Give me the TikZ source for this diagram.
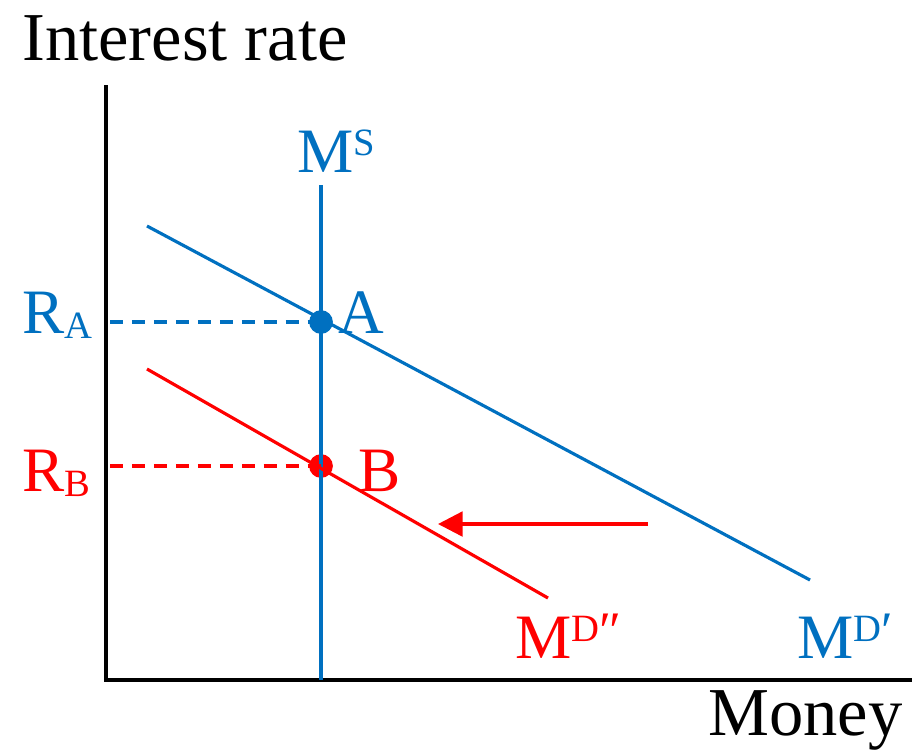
\documentclass[tikz,border=0pt]{standalone}
\usepackage{fontspec}
\setmainfont{Liberation Serif}
\usetikzlibrary{arrows.meta}
\definecolor{msblue}{RGB}{0,112,192}
\definecolor{mdred}{RGB}{255,0,0}
\newcommand\suptxt[1]{\raisebox{9.2pt}{\fontsize{22}{22}\selectfont #1}}
\newcommand\subtxt[1]{\raisebox{-3pt}{\fontsize{22}{22}\selectfont #1}}
\newcommand\primes[1]{{\fontsize{30}{30}\selectfont\raisebox{-4pt}{#1}}}
\tikzset{
  axisline/.style = {draw=black, line width=2pt},
  bluecurve/.style= {draw=msblue, line width=1.8pt},
  redcurve/.style = {draw=mdred, line width=1.8pt},
  guide/.style    = {dash pattern=on 7.5pt off 5pt, line width=1.8pt},
  eqdot/.style    = {circle, inner sep=0pt, minimum size=13.5pt},
  lbl/.style      = {font=\fontsize{36}{36}\selectfont, inner sep=0pt,
                     anchor=base west},
  arr/.style      = {-{Triangle[length=14pt,width=14pt]}, line width=1.9pt},
}
\begin{document}
\begin{tikzpicture}[x=0.02cm, y=-0.02cm]
\useasboundingbox (0,0) rectangle (923,752);

% ─── axes ───────────────────────────────────────────────
\coordinate (O)    at (106,680);
\coordinate (ytop) at (106,85);
\coordinate (xend) at (912,680);
\draw[axisline] (ytop) -- (O) -- (xend);

\node[lbl, font=\fontsize{39}{39}\selectfont] (ylab) at (22,60) {Interest rate};
\node[lbl, font=\fontsize{39}{39}\selectfont] (xlab) at (708,735) {Money};

% ─── equilibrium points ─────────────────────────────────
\node[eqdot, fill=mdred] (ptB) at (321,466) {};

% money supply (vertical)
\coordinate (ms-top) at (321,185);
\coordinate (ms-bot) at (321,680);
\draw[bluecurve] (ms-top) -- (ms-bot);
\node[lbl, text=msblue] (lbl-ms) at (297,172) {M\suptxt{S}};

\node[eqdot, fill=msblue] (ptA) at (321,322) {};

% ─── demand curves ──────────────────────────────────────
\coordinate (mda-start) at (147,226);
\coordinate (mda-end)   at (810,580);
\draw[bluecurve] (mda-start) -- (mda-end);

\coordinate (mdb-start) at (147,369);
\coordinate (mdb-end)   at (548,598);
\draw[redcurve] (mdb-start) -- (mdb-end);

\node[lbl, text=mdred]  (lbl-mdb) at (515,658) {M\suptxt{D\primes{″}}};
\node[lbl, text=msblue] (lbl-mda) at (797,658) {M\suptxt{D\primes{′}}};

% ─── rate guides ────────────────────────────────────────
\coordinate (ra) at (110,322);
\coordinate (rb) at (110,466);
\draw[guide, msblue] (ra) -- (ptA.center);
\draw[guide, mdred]  (rb) -- (ptB.center);

\node[lbl, text=msblue] (lbl-ra) at (22,333) {R\subtxt{A}};
\node[lbl, text=msblue] (lbl-a)  at (338,333) {A};
\node[lbl, text=mdred]  (lbl-rb) at (22,491) {R\subtxt{B}};
\node[lbl, text=mdred]  (lbl-b)  at (358,491) {B};

% ─── shift of demand ────────────────────────────────────
\coordinate (shift-from) at (648,524);
\coordinate (shift-to)   at (438,524);
\draw[arr, mdred] (shift-from) -- (shift-to);

\end{tikzpicture}
\end{document}
